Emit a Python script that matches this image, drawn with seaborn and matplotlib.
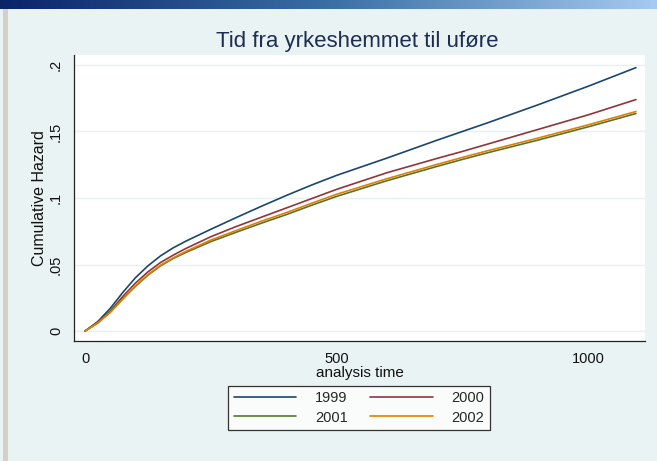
import numpy as np
import pandas as pd
import matplotlib
matplotlib.use("Agg")
import matplotlib.pyplot as plt
from matplotlib.colors import LinearSegmentedColormap
import seaborn as sns

# ---- data ----
time = [0, 25, 50, 75, 100, 125, 150, 175, 200, 250, 300, 350, 400, 450, 500, 600, 700, 750, 800, 900,
        1000, 1095]
haz_1999 = [0, 0.007, 0.017, 0.029, 0.040, 0.049, 0.0565, 0.0625, 0.0675, 0.0765, 0.0852, 0.0937,
            0.1019, 0.1097, 0.117, 0.130, 0.1435, 0.150, 0.1565, 0.170, 0.184, 0.198]
haz_2000 = [0, 0.0065, 0.015, 0.026, 0.036, 0.0445, 0.0515, 0.057, 0.062, 0.0709, 0.0785, 0.0855,
            0.0925, 0.0995, 0.1065, 0.119, 0.1298, 0.135, 0.1405, 0.1515, 0.1625, 0.174]
haz_2001 = [0, 0.006, 0.0142, 0.0243, 0.0335, 0.042, 0.049, 0.0545, 0.059, 0.0672, 0.0742, 0.081,
            0.0875, 0.0945, 0.1012, 0.113, 0.1238, 0.129, 0.134, 0.1435, 0.1535, 0.1635]
haz_2002 = [0, 0.006, 0.014, 0.024, 0.034, 0.0425, 0.0495, 0.055, 0.0598, 0.0684, 0.0755, 0.0825,
            0.089, 0.096, 0.1028, 0.1145, 0.1253, 0.1305, 0.1355, 0.145, 0.155, 0.165]
years = ["1999", "2000", "2001", "2002"]
colors = ["#1a476f", "#90353b", "#55752f", "#e37e00"]
x_ticks = [0, 500, 1000]
y_ticks = [0, 0.05, 0.1, 0.15, 0.2]
y_ticklabels = ["0", ".05", ".1", ".15", ".2"]
title = "Tid fra yrkeshemmet til uføre"

frames = []
for yr, vals in zip(years, [haz_1999, haz_2000, haz_2001, haz_2002]):
    frames.append(pd.DataFrame({"time": time, "haz": vals, "year": yr}))
df = pd.concat(frames, ignore_index=True)

sns.set_style("white")
plt.rcParams["font.family"] = ["Liberation Sans", "DejaVu Sans"]

bg = "#eaf3f3"
fig = plt.figure(figsize=(6.57, 4.61), dpi=100, facecolor=bg)

# window decorations: top gradient bar and left border
bar = fig.add_axes([0, 1 - 9 / 461, 1, 9 / 461])
grad = np.linspace(0, 1, 256).reshape(1, -1)
cm = LinearSegmentedColormap.from_list("bar", ["#0a246a", "#3a6ea5", "#a6caf0"])
bar.imshow(grad, aspect="auto", cmap=cm)
bar.axis("off")
border = fig.add_axes([3 / 657, 0, 5 / 657, 1 - 9 / 461])
border.set_facecolor("#d4d0c8")
border.set_xticks([]); border.set_yticks([])
for s in border.spines.values():
    s.set_visible(False)

ax = fig.add_axes([74 / 657, 1 - 341 / 461, (645 - 74) / 657, (341 - 55) / 461])
ax.set_facecolor("white")
sns.lineplot(data=df, x="time", y="haz", hue="year", palette=colors, ax=ax,
             legend=False, linewidth=1.2)

ax.set_xlim(-22, 1113)
ax.set_ylim(-0.0075, 0.2075)
ax.set_xticks(x_ticks)
ax.set_xticklabels([str(t) for t in x_ticks], fontsize=10.5)
ax.set_yticks(y_ticks)
ax.set_yticklabels(y_ticklabels, fontsize=10.5, rotation=90, va="center")
ax.grid(axis="y", color="#e6f0f1", linewidth=1.0)
ax.set_axisbelow(True)
for s in ["top", "right"]:
    ax.spines[s].set_visible(False)
for s in ["left", "bottom"]:
    ax.spines[s].set_color("#222222")
    ax.spines[s].set_linewidth(0.9)
ax.tick_params(axis="both", direction="out", length=5, width=0.9, color="#222222",
               labelcolor="#111111", pad=3)
ax.set_xlabel("analysis time", fontsize=11, color="#111111", labelpad=0)
ax.set_ylabel("Cumulative Hazard", fontsize=11.5, color="#111111", labelpad=1)

fig.text(357 / 657, 1 - 42 / 461, title, ha="center", va="center",
         fontsize=16, color="#1e2d53")

lines = ax.get_lines()[:4]
order = [0, 2, 1, 3]  # row-wise legend layout: 1999 2000 / 2001 2002
leg = ax.legend([lines[i] for i in order], [years[i] for i in order], loc="center",
                bbox_to_anchor=(359 / 657, 1 - 408 / 461),
                bbox_transform=fig.transFigure, ncol=2, fontsize=10.5, frameon=True,
                fancybox=False, edgecolor="black", handlelength=4.3, handletextpad=1.3,
                columnspacing=1.5, borderpad=0.4, labelspacing=0.35, markerfirst=True)
leg.get_frame().set_linewidth(0.9)
for h in leg.legend_handles:
    h.set_linewidth(1.2)

fig.savefig("out.png", dpi=100, facecolor=bg)
